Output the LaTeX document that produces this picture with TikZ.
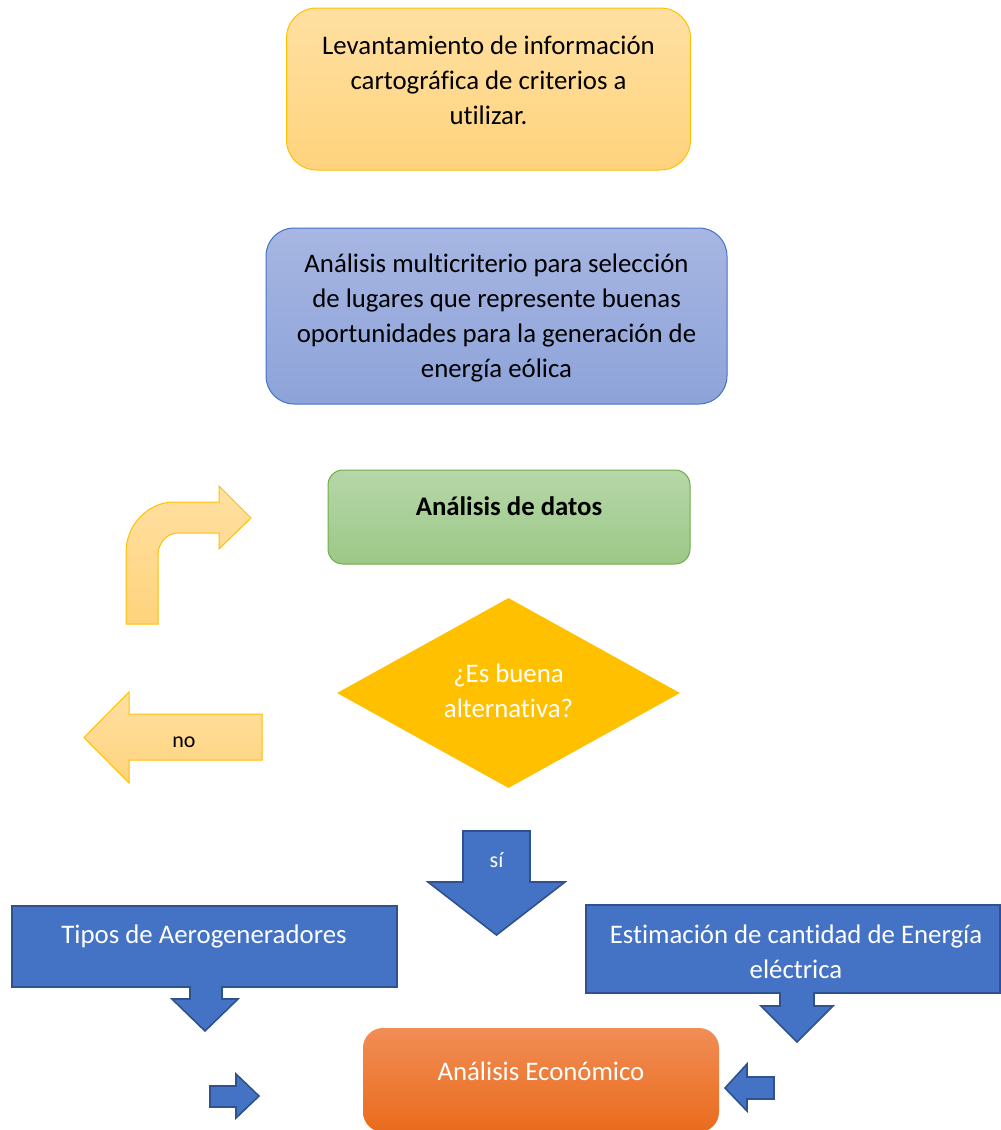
\documentclass[tikz,border=0pt]{standalone}
\usepackage{fontspec}
\setmainfont{Carlito}[Ligatures=NoCommon]
\usetikzlibrary{shapes.geometric}
\definecolor{goldline}{HTML}{FFC000}
\definecolor{goldtop}{HTML}{FFE0A2}
\definecolor{goldbot}{HTML}{FFD37C}
\definecolor{bluetop}{HTML}{A7B6E2}
\definecolor{bluebot}{HTML}{8DA3D9}
\definecolor{blueline}{HTML}{4472C4}
\definecolor{greentop}{HTML}{B6D7A8}
\definecolor{greenbot}{HTML}{9CC888}
\definecolor{greenline}{HTML}{70AD47}
\definecolor{orangetop}{HTML}{F18D55}
\definecolor{orangebot}{HTML}{E96B1C}
\definecolor{solidblue}{HTML}{4472C4}
\definecolor{darkblue}{HTML}{2F528F}
\tikzset{
  txt/.style={font=\fontsize{26.8}{35}\selectfont, align=center, inner sep=0pt},
  smalltxt/.style={font=\fontsize{22}{26}\selectfont, inner sep=0pt},
  goldbox/.style={draw=goldline, line width=1pt, top color=goldtop, bottom color=goldbot, rounded corners=30pt, inner sep=0pt},
  bluebox/.style={draw=blueline, line width=1pt, top color=bluetop, bottom color=bluebot, rounded corners=28pt, inner sep=0pt},
  greenbox/.style={draw=greenline, line width=1pt, top color=greentop, bottom color=greenbot, rounded corners=15pt, inner sep=0pt},
  orangebox/.style={draw=none, top color=orangetop, bottom color=orangebot, rounded corners=20pt, inner sep=0pt},
  goldarrow/.style={draw=goldline, line width=1pt, top color=goldtop, bottom color=goldbot, line join=miter},
  bluearrow/.style={draw=darkblue, line width=1.6pt, fill=solidblue, line join=miter},
}
\begin{document}
\begin{tikzpicture}[x=1pt, y=-1pt]
\useasboundingbox (0,0) rectangle (1001,1130);

% process boxes
\node[goldbox, minimum width=404pt, minimum height=162pt] (lev) at (488.5,89) {};
\node[txt] (levtxt) at (488.5,80) {Levantamiento de información\\cartográfica de criterios a\\utilizar.};

\node[bluebox, minimum width=461pt, minimum height=176pt] (multi) at (496.5,316) {};
\node[txt] (multitxt) at (496.5,317.5) {Análisis multicriterio para selección\\de lugares que represente buenas\\oportunidades para la generación de\\energía eólica};

\node[greenbox, minimum width=362pt, minimum height=94pt] (datos) at (509,517) {};
\node[txt, font=\fontsize{26.8}{35}\selectfont\bfseries] (datostxt) at (509,506) {Análisis de datos};

% decision
\node[diamond, fill=goldline, minimum width=343pt, minimum height=190pt, inner sep=0pt] (dec) at (508.5,693) {};
\node[txt, text=white] (dectxt) at (508.5,691) {¿Es buena\\alternativa?};

% bent arrow back up to the data analysis
\draw[goldarrow] (126,624) -- (126,552)
  .. controls (126,525) and (148,502) .. (174,502)
  -- (219,502) -- (219,486) -- (251,518) -- (219,549) -- (219,533) -- (178,533)
  .. controls (167,533) and (158,543) .. (158,555)
  -- (158,624) -- cycle;

% "no" branch
\draw[goldarrow] (262,714) -- (262,760) -- (129,760) -- (129,783) -- (84,737.5) -- (129,692) -- (129,714) -- cycle;
\node[smalltxt] (notxt) at (184,742) {no};

% "si" branch
\draw[bluearrow] (463,831) -- (530,831) -- (530,882) -- (565,882) -- (496.5,935) -- (428,882) -- (463,882) -- cycle;
\node[smalltxt, text=white] (sitxt) at (496.5,860) {sí};

% callouts feeding the economic analysis
\draw[bluearrow] (12,906) -- (397,906) -- (397,987) -- (222,987) -- (222,999) -- (238,999) -- (205,1031) -- (172,999) -- (190,999) -- (190,987) -- (12,987) -- cycle;
\node[txt, text=white] (tipostxt) at (204,936) {Tipos de Aerogeneradores};

\draw[bluearrow] (586,905) -- (1000,905) -- (1000,993) -- (814,993) -- (814,1006) -- (833,1006) -- (797,1042) -- (761,1006) -- (780,1006) -- (780,993) -- (586,993) -- cycle;
\node[txt, text=white] (esttxt) at (796,952) {Estimación de cantidad de Energía\\eléctrica};

% economic analysis
\node[orangebox, minimum width=356pt, minimum height=104pt] (eco) at (541,1080) {};
\node[txt, text=white] (ecotxt) at (541,1071) {Análisis Económico};

% small pointers
\draw[bluearrow] (210,1086) -- (236,1086) -- (236,1074) -- (259,1096) -- (236,1118) -- (236,1107) -- (210,1107) -- cycle;
\draw[bluearrow] (774,1077) -- (747,1077) -- (747,1064) -- (725,1088) -- (747,1111) -- (747,1099) -- (774,1099) -- cycle;
\end{tikzpicture}
\end{document}
